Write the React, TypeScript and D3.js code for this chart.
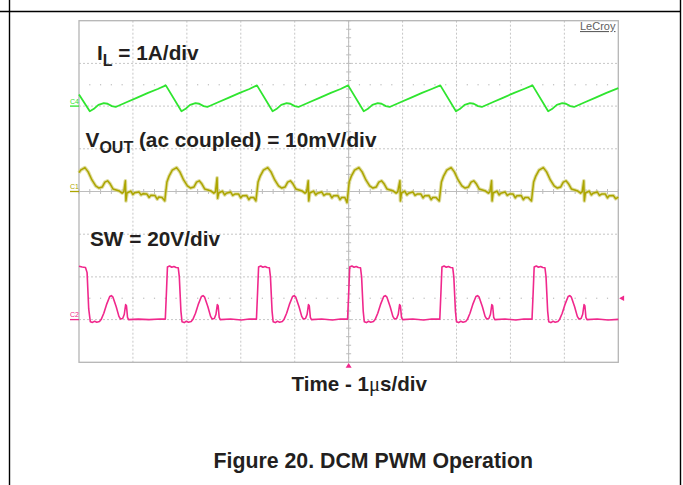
import React from "react";
import * as d3 from "d3";

// ---------- DATA ----------
const TIME_DIVS = [0, 1, 2, 3, 4, 5, 6, 7, 8, 9, 10]; // µs
const VERT_DIVS = [-4, -3, -2, -1, 0, 1, 2, 3, 4];

// Inductor current IL (A), 1 A/div
const IL_POINTS: [number, number][] = [
  [0.0, 0.27], [0.2, -0.12], [0.27, -0.07], [0.36, 0.03], [0.46, 0.07], [0.53, 0.055], [0.61, 0.0], [0.68, -0.02], [0.88, 0.09], [1.08, 0.2], [1.28, 0.31], [1.46, 0.4], [1.61, 0.485],
  [1.9, -0.12], [1.97, -0.07], [2.06, 0.03], [2.16, 0.07], [2.23, 0.055], [2.31, 0.0], [2.38, -0.02], [2.58, 0.09], [2.78, 0.2], [2.98, 0.31], [3.16, 0.4], [3.3, 0.485],
  [3.59, -0.12], [3.66, -0.07], [3.75, 0.03], [3.85, 0.07], [3.92, 0.055], [4.0, 0.0], [4.07, -0.02], [4.27, 0.09], [4.47, 0.2], [4.67, 0.31], [4.85, 0.4], [4.99, 0.485],
  [5.28, -0.12], [5.35, -0.07], [5.44, 0.03], [5.54, 0.07], [5.61, 0.055], [5.69, 0.0], [5.76, -0.02], [5.96, 0.09], [6.16, 0.2], [6.36, 0.31], [6.54, 0.4], [6.7, 0.485],
  [6.99, -0.12], [7.06, -0.07], [7.15, 0.03], [7.25, 0.07], [7.32, 0.055], [7.4, 0.0], [7.47, -0.02], [7.67, 0.09], [7.87, 0.2], [8.07, 0.31], [8.25, 0.4], [8.41, 0.485],
  [8.7, -0.12], [8.77, -0.07], [8.86, 0.03], [8.96, 0.07], [9.03, 0.055], [9.11, 0.0], [9.18, -0.02], [9.38, 0.09], [9.58, 0.2], [9.78, 0.31], [10.0, 0.42],
];

// Output voltage ripple VOUT (mV, ac coupled), 10 mV/div
const VOUT_POINTS: [number, number][] = [
  [0.0, 4.4], [0.03, 5.0], [0.11, 5.6], [0.17, 4.6], [0.24, 2.7], [0.31, 1.3], [0.37, 0.8], [0.43, 1.05], [0.48, 2.2], [0.53, 2.5], [0.58, 1.75], [0.63, 0.6], [0.69, 0.35], [0.75, 0.1], [0.8, -0.4], [0.83, -0.1], [0.86, 2.5], [0.87, -2.2], [0.89, -0.35], [0.96, 0.1], [1.0, -0.7], [1.03, -0.3], [1.11, -0.1], [1.15, -0.8], [1.19, -0.5], [1.26, -0.6], [1.3, -1.4], [1.33, -0.9], [1.41, -0.95], [1.45, -1.8], [1.48, -1.3], [1.54, -1.4], [1.59, -2.2],
  [1.63, 2.2], [1.67, 3.6], [1.73, 5.0], [1.81, 5.6], [1.87, 4.6], [1.94, 2.7], [2.01, 1.3], [2.07, 0.8], [2.13, 1.05], [2.18, 2.2], [2.23, 2.5], [2.28, 1.75], [2.33, 0.6], [2.39, 0.35], [2.45, 0.1], [2.5, -0.4], [2.53, -0.1], [2.56, 3.2], [2.57, -1.6], [2.59, -0.35], [2.66, 0.1], [2.7, -0.8], [2.73, -0.4], [2.81, -0.1], [2.85, -0.9], [2.89, -0.6], [2.96, -0.6], [3.0, -1.5], [3.03, -1.0], [3.11, -0.95], [3.15, -1.9], [3.18, -1.4], [3.24, -1.4], [3.28, -2.2],
  [3.32, 2.2], [3.36, 3.6], [3.42, 5.0], [3.5, 5.6], [3.56, 4.6], [3.63, 2.7], [3.7, 1.3], [3.76, 0.8], [3.82, 1.05], [3.87, 2.2], [3.92, 2.5], [3.97, 1.75], [4.02, 0.6], [4.08, 0.35], [4.14, 0.1], [4.19, -0.4], [4.22, -0.1], [4.25, 2.5], [4.26, -2.2], [4.28, -0.35], [4.35, 0.1], [4.39, -0.8], [4.42, -0.4], [4.5, -0.1], [4.54, -0.9], [4.58, -0.6], [4.65, -0.6], [4.69, -1.5], [4.72, -1.0], [4.8, -0.95], [4.84, -1.9], [4.87, -1.4], [4.93, -1.4], [4.97, -2.6],
  [5.01, 2.2], [5.05, 3.6], [5.11, 5.0], [5.19, 5.6], [5.25, 4.6], [5.32, 2.7], [5.39, 1.3], [5.45, 0.8], [5.51, 1.05], [5.56, 2.2], [5.61, 2.5], [5.66, 1.75], [5.71, 0.6], [5.77, 0.35], [5.83, 0.1], [5.88, -0.4], [5.91, -0.1], [5.95, 2.5], [5.96, -2.2], [5.98, -0.35], [6.04, 0.1], [6.08, -0.8], [6.11, -0.4], [6.19, -0.1], [6.23, -0.9], [6.27, -0.6], [6.34, -0.6], [6.38, -1.5], [6.41, -1.0], [6.49, -0.95], [6.53, -1.9], [6.56, -1.4], [6.62, -1.4], [6.68, -2.2],
  [6.72, 2.2], [6.76, 3.6], [6.82, 5.0], [6.9, 5.6], [6.96, 4.6], [7.03, 2.7], [7.1, 1.3], [7.16, 0.8], [7.22, 1.05], [7.27, 2.2], [7.32, 2.5], [7.37, 1.75], [7.42, 0.6], [7.48, 0.35], [7.54, 0.1], [7.59, -0.4], [7.62, -0.1], [7.65, 2.5], [7.66, -2.2], [7.68, -0.35], [7.75, 0.1], [7.79, -0.8], [7.82, -0.4], [7.9, -0.1], [7.94, -0.9], [7.98, -0.6], [8.05, -0.6], [8.09, -1.5], [8.12, -1.0], [8.2, -0.95], [8.24, -1.9], [8.27, -1.4], [8.33, -1.4], [8.39, -2.2],
  [8.43, 2.2], [8.47, 3.6], [8.53, 5.0], [8.61, 5.6], [8.67, 4.6], [8.74, 2.7], [8.81, 1.3], [8.87, 0.8], [8.93, 1.05], [8.98, 2.2], [9.03, 2.5], [9.08, 1.75], [9.13, 0.6], [9.19, 0.35], [9.25, 0.1], [9.3, -0.4], [9.33, -0.1], [9.36, 2.5], [9.37, -2.2], [9.39, -0.35], [9.46, 0.1], [9.5, -0.8], [9.53, -0.4], [9.61, -0.1], [9.65, -0.9], [9.69, -0.6], [9.76, -0.6], [9.8, -1.5], [9.83, -1.0], [9.91, -0.95], [9.95, -1.7], [10.0, -1.3],
];

// Switch node SW (V), 20 V/div
const SW_POINTS: [number, number][] = [
  [0.0, 25.0], [0.06, 24.6], [0.12, 24.4], [0.15, 22], [0.18, 5], [0.21, -1.0], [0.25, -1.3], [0.29, -0.8], [0.33, -1.2], [0.38, -0.9], [0.41, 0], [0.46, 3], [0.51, 7], [0.57, 10.8], [0.6, 11.2], [0.63, 10.5], [0.69, 6], [0.74, 1.5], [0.77, 0.3], [0.81, 0.5], [0.84, 2.5], [0.865, 7], [0.88, 6.5], [0.9, 1], [0.92, 0], [1.1, 0.2], [1.3, 0], [1.5, 0.3],
  [1.6, 0.2], [1.62, 12], [1.64, 24.6], [1.68, 25.1], [1.72, 24.5], [1.76, 24.9], [1.8, 24.4], [1.84, 24.3], [1.86, 20], [1.89, 4], [1.91, -1.0], [1.95, -1.4], [1.99, -0.8], [2.03, -1.2], [2.08, -0.9], [2.11, 0], [2.16, 3], [2.21, 7], [2.27, 10.8], [2.3, 11.2], [2.33, 10.5], [2.39, 6], [2.44, 1.5], [2.47, 0.3], [2.51, 0.5], [2.54, 2.5], [2.565, 7], [2.58, 6.5], [2.6, 1], [2.62, 0], [2.81, 0.3], [3.01, -0.2], [3.16, 0.3],
  [3.29, 0.2], [3.31, 12], [3.33, 24.6], [3.37, 25.1], [3.41, 24.5], [3.45, 24.9], [3.49, 24.4], [3.53, 24.3], [3.55, 20], [3.58, 4], [3.6, -1.0], [3.64, -1.4], [3.68, -0.8], [3.72, -1.2], [3.77, -0.9], [3.8, 0], [3.85, 3], [3.9, 7], [3.96, 10.8], [3.99, 11.2], [4.02, 10.5], [4.08, 6], [4.13, 1.5], [4.16, 0.3], [4.2, 0.5], [4.23, 2.5], [4.255, 7], [4.27, 6.5], [4.29, 1], [4.31, 0], [4.5, 0.3], [4.7, -0.2], [4.85, 0.3],
  [4.98, 0.2], [5.0, 12], [5.02, 24.6], [5.06, 25.1], [5.1, 24.5], [5.14, 24.9], [5.18, 24.4], [5.22, 24.3], [5.24, 20], [5.27, 4], [5.29, -1.0], [5.33, -1.4], [5.37, -0.8], [5.41, -1.2], [5.46, -0.9], [5.49, 0], [5.54, 3], [5.59, 7], [5.65, 10.8], [5.68, 11.2], [5.71, 10.5], [5.77, 6], [5.82, 1.5], [5.85, 0.3], [5.89, 0.5], [5.92, 2.5], [5.945, 7], [5.96, 6.5], [5.98, 1], [6.0, 0], [6.19, 0.3], [6.39, -0.2], [6.54, 0.3],
  [6.69, 0.2], [6.71, 12], [6.73, 24.6], [6.77, 25.1], [6.81, 24.5], [6.85, 24.9], [6.89, 24.4], [6.93, 24.3], [6.95, 20], [6.98, 4], [7.0, -1.0], [7.04, -1.4], [7.08, -0.8], [7.12, -1.2], [7.17, -0.9], [7.2, 0], [7.25, 3], [7.3, 7], [7.36, 10.8], [7.39, 11.2], [7.42, 10.5], [7.48, 6], [7.53, 1.5], [7.56, 0.3], [7.6, 0.5], [7.63, 2.5], [7.655, 7], [7.67, 6.5], [7.69, 1], [7.71, 0], [7.9, 0.3], [8.1, -0.2], [8.25, 0.3],
  [8.4, 0.2], [8.42, 12], [8.44, 24.6], [8.48, 25.1], [8.52, 24.5], [8.56, 24.9], [8.6, 24.4], [8.64, 24.3], [8.66, 20], [8.69, 4], [8.71, -1.0], [8.75, -1.4], [8.79, -0.8], [8.83, -1.2], [8.88, -0.9], [8.91, 0], [8.96, 3], [9.01, 7], [9.07, 10.8], [9.1, 11.2], [9.13, 10.5], [9.19, 6], [9.24, 1.5], [9.27, 0.3], [9.31, 0.5], [9.34, 2.5], [9.365, 7], [9.38, 6.5], [9.4, 1], [9.42, 0], [9.61, 0.3], [9.81, -0.2], [10.0, 0.1],
];

const CHANNEL_NAMES = ["C4", "C1", "C2"];
const CHANNEL_OFFSETS = [2, 0, -3]; // divisions
const CHANNEL_SCALES = [1, 10, 20]; // units per division
const TRIGGER_TIME = 5; // µs
const TRIGGER_LEVEL = 10; // V on SW

// ---------- LAYOUT ----------
const W = 683;
const H = 485;
const PL = 79;
const PR = 618.3;
const PT = 20.7;
const PB = 362.3;
const FONT = "'Liberation Sans', Arial, Helvetica, sans-serif";
const TXT = "#231f20";

const GREEN = "#2fe52f";
const YELLOW = "#aca500";
const YELLOW_FUZZ = "#d2ce7a";
const PINK = "#f0288c";

export default function App() {
  const x = d3.scaleLinear().domain([0, 10]).range([PL, PR]);
  const y = d3.scaleLinear().domain([-4, 4]).range([PB, PT]);

  const mkLine = (ci: number) =>
    d3
      .line<[number, number]>()
      .x((d) => x(d[0]))
      .y((d) => y(CHANNEL_OFFSETS[ci] + d[1] / CHANNEL_SCALES[ci]));

  const ilPath = mkLine(0)(IL_POINTS) || "";
  const voutPath = mkLine(1)(VOUT_POINTS) || "";
  const swPath = mkLine(2)(SW_POINTS) || "";
  const colors = [GREEN, YELLOW, PINK];

  const minorX = d3.range(0, 50.001, 1).map((i) => i / 5);
  const minorY = d3.range(-20, 20.001, 1).map((i) => i / 5);

  const xc = x(TRIGGER_TIME);
  const yc = y(0);
  const trigY = y(CHANNEL_OFFSETS[2] + TRIGGER_LEVEL / CHANNEL_SCALES[2]);

  return (
    <svg
      width={W}
      height={H}
      viewBox={`0 0 ${W} ${H}`}
      style={{ position: "absolute", left: 0, top: 0, background: "#fff" }}
    >
      <rect x={0} y={0} width={W} height={H} fill="#fff" />
      {/* page frame */}
      <line x1={0} x2={681} y1={11.5} y2={11.5} stroke="#000" strokeWidth={1.4} />
      <line x1={9.5} x2={9.5} y1={0} y2={H} stroke="#000" strokeWidth={1.4} />
      <line x1={680.5} x2={680.5} y1={0} y2={H} stroke="#000" strokeWidth={1.4} />

      {/* grid */}
      {TIME_DIVS.slice(1, -1).map((t) => (
        <line key={"gx" + t} x1={x(t)} x2={x(t)} y1={PT} y2={PB} stroke="#c6c6c6" strokeWidth={1} strokeDasharray="2,2" />
      ))}
      {VERT_DIVS.slice(1, -1).map((v) => (
        <line key={"gy" + v} x1={PL} x2={PR} y1={y(v)} y2={y(v)} stroke="#c6c6c6" strokeWidth={1} strokeDasharray="2,2" />
      ))}
      {/* half-division dotted reference rows */}
      {[CHANNEL_OFFSETS[0] + 0.5, CHANNEL_OFFSETS[2] + 0.5].map((v) => (
        <g key={"dr" + v}>
          {minorX.slice(1, -1).map((t) => (
            <rect key={t} x={x(t) - 0.6} y={y(v) - 0.6} width={1.2} height={1.2} fill="#bdbdbd" />
          ))}
        </g>
      ))}
      {/* center axes with minor ticks */}
      <line x1={xc} x2={xc} y1={PT} y2={PB} stroke="#bdbdbd" strokeWidth={1} />
      <line x1={PL} x2={PR} y1={yc} y2={yc} stroke="#bdbdbd" strokeWidth={1} />
      {minorY.map((v) => (
        <line key={"ty" + v} x1={xc - 2.5} x2={xc + 2.5} y1={y(v)} y2={y(v)} stroke="#bdbdbd" strokeWidth={1} />
      ))}
      {minorX.map((t) => (
        <line key={"tx" + t} x1={x(t)} x2={x(t)} y1={yc - 2.5} y2={yc + 2.5} stroke="#bdbdbd" strokeWidth={1} />
      ))}
      <rect x={PL} y={PT} width={PR - PL} height={PB - PT} fill="none" stroke="#b5b5b5" strokeWidth={1.3} />

      {/* traces */}
      <path d={ilPath} fill="none" stroke={GREEN} strokeWidth={1.8} strokeLinejoin="round" />
      <path d={voutPath} fill="none" stroke={YELLOW_FUZZ} strokeWidth={3.6} strokeOpacity={0.7} strokeLinejoin="round" />
      <path d={voutPath} fill="none" stroke={YELLOW} strokeWidth={1.5} strokeLinejoin="round" />
      <path d={swPath} fill="none" stroke={PINK} strokeWidth={1.6} strokeLinejoin="round" />

      {/* channel ground markers */}
      {CHANNEL_NAMES.map((n, i) => {
        const gy = y(CHANNEL_OFFSETS[i]);
        return (
          <g key={n}>
            <line x1={70} x2={PL} y1={gy} y2={gy} stroke={colors[i]} strokeWidth={1.3} />
            <text x={70} y={gy - 2.5} fontSize={7} fontFamily={FONT} fill={colors[i]}>
              {n}
            </text>
          </g>
        );
      })}

      {/* trigger markers */}
      <path d={`M${xc},${PB + 0.8} L${xc - 3},${PB + 5.5} L${xc + 3},${PB + 5.5} Z`} fill={PINK} />
      <path d={`M${PR + 0.8},${trigY} L${PR + 5.8},${trigY - 2.8} L${PR + 5.8},${trigY + 2.8} Z`} fill={PINK} />

      {/* LeCroy brand */}
      <text x={580} y={30} fontSize={11} fontFamily={FONT} fill="#606060" textDecoration="underline">
        LeCroy
      </text>

      {/* annotations */}
      <text x={97} y={60} fontSize={20.8} fontWeight="bold" fontFamily={FONT} fill={TXT}>
        I
        <tspan fontSize={16} dy={6}>L</tspan>
        <tspan dy={-6}> = 1A/div</tspan>
      </text>
      <text x={85.5} y={147.3} fontSize={20.8} fontWeight="bold" fontFamily={FONT} fill={TXT}>
        V
        <tspan fontSize={16} dy={5.5}>OUT</tspan>
        <tspan dy={-5.5}> (ac coupled) = 10mV/div</tspan>
      </text>
      <text x={90} y={246} fontSize={20.8} fontWeight="bold" fontFamily={FONT} fill={TXT}>
        SW = 20V/div
      </text>

      <text x={291.5} y={391} fontSize={20.6} fontWeight="bold" fontFamily={FONT} fill={TXT}>
        Time - 1
        <tspan fontFamily="'Liberation Serif', 'DejaVu Serif', serif" fontWeight="normal">μ</tspan>
        s/div
      </text>
      <text x={213.5} y={467.7} fontSize={21.3} fontWeight="bold" fontFamily={FONT} fill={TXT}>
        Figure 20. DCM PWM Operation
      </text>
    </svg>
  );
}
